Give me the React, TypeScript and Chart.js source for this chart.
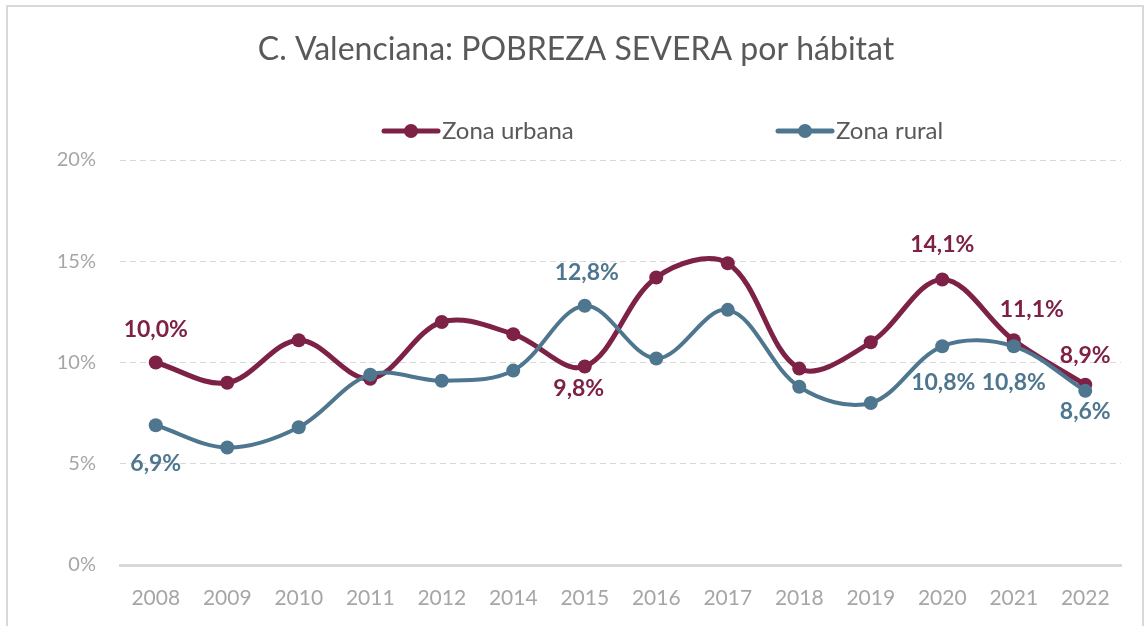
import { useEffect, useRef } from "react";
import { Chart, registerables } from "chart.js";

Chart.register(...registerables);

const years = ["2008", "2009", "2010", "2011", "2012", "2014", "2015", "2016", "2017", "2018", "2019", "2020", "2021", "2022"];
const urbana = [10.0, 9.0, 11.1, 9.2, 12.0, 11.4, 9.8, 14.2, 14.9, 9.7, 11.0, 14.1, 11.1, 8.9];
const rural = [6.9, 5.8, 6.8, 9.4, 9.1, 9.6, 12.8, 10.2, 12.6, 8.8, 8.0, 10.8, 10.8, 8.6];
const yTickValues = [0, 5, 10, 15, 20];
const urbanLabelIdx = [0, 6, 11, 12, 13];
const ruralLabelIdx = [0, 6, 11, 12, 13];

const title = "C. Valenciana: POBREZA SEVERA por hábitat";
const seriesNames = ["Zona urbana", "Zona rural"];

const URBAN = "#7D2146";
const RURAL = "#4F768F";
const FONT = "Lato, 'Open Sans', sans-serif";

const fmt = (v: number) => v.toFixed(1).replace(".", ",") + "%";

// label offsets (dx, dy) relative to the point, per labelled index
const urbanOffsets: Record<number, [number, number]> = {
  0: [0, -33],
  6: [-6, 22],
  11: [0, -35],
  12: [18, -31],
  13: [0, -29],
};
const ruralOffsets: Record<number, [number, number]> = {
  0: [0, 38],
  6: [2, -33],
  11: [1, 36],
  12: [0, 36],
  13: [0, 21],
};

const decorPlugin = {
  id: "decor",
  beforeDraw(chart: any) {
    const ctx = chart.ctx;
    ctx.save();
    ctx.fillStyle = "#ffffff";
    ctx.fillRect(0, 0, chart.width, chart.height);
    ctx.strokeStyle = "#D9D9D9";
    ctx.lineWidth = 2;
    ctx.strokeRect(7, 6, 1136, 700);
    // title
    ctx.fillStyle = "#595959";
    ctx.font = `32px ${FONT}`;
    ctx.textAlign = "center";
    ctx.textBaseline = "middle";
    ctx.fillText(title, 576, 50);
    // legend
    const items = [
      { x: 384, color: URBAN, text: seriesNames[0] },
      { x: 778, color: RURAL, text: seriesNames[1] },
    ];
    const ly = 131;
    items.forEach((it) => {
      ctx.strokeStyle = it.color;
      ctx.lineWidth = 5;
      ctx.lineCap = "round";
      ctx.beginPath();
      ctx.moveTo(it.x, ly);
      ctx.lineTo(it.x + 54, ly);
      ctx.stroke();
      ctx.fillStyle = it.color;
      ctx.beginPath();
      ctx.arc(it.x + 27, ly, 7, 0, Math.PI * 2);
      ctx.fill();
      ctx.fillStyle = "#595959";
      ctx.font = `24px ${FONT}`;
      ctx.textAlign = "left";
      ctx.textBaseline = "middle";
      ctx.fillText(it.text, it.x + 58, ly);
    });
    ctx.restore();
  },
  afterDatasetsDraw(chart: any) {
    const ctx = chart.ctx;
    ctx.save();
    ctx.font = `bold 23px ${FONT}`;
    ctx.textAlign = "center";
    ctx.textBaseline = "middle";
    const draw = (dsIndex: number, idxs: number[], offs: Record<number, [number, number]>, color: string, values: number[]) => {
      const meta = chart.getDatasetMeta(dsIndex);
      ctx.fillStyle = color;
      idxs.forEach((i) => {
        const p = meta.data[i];
        const [dx, dy] = offs[i] || [0, -30];
        ctx.fillText(fmt(values[i]), p.x + dx, p.y + dy);
      });
    };
    draw(0, urbanLabelIdx, urbanOffsets, URBAN, urbana);
    draw(1, ruralLabelIdx, ruralOffsets, RURAL, rural);
    ctx.restore();
  },
};

export default function App() {
  const ref = useRef<HTMLCanvasElement | null>(null);
  useEffect(() => {
    if (!ref.current) return;
    const chart = new Chart(ref.current, {
      type: "line",
      data: {
        labels: years,
        datasets: [
          {
            label: seriesNames[0],
            data: urbana,
            borderColor: URBAN,
            backgroundColor: URBAN,
            pointBackgroundColor: URBAN,
            pointBorderColor: URBAN,
            borderWidth: 5,
            pointRadius: 7,
            pointBorderWidth: 0,
            tension: 0.35,
            order: 1,
          },
          {
            label: seriesNames[1],
            data: rural,
            borderColor: RURAL,
            backgroundColor: RURAL,
            pointBackgroundColor: RURAL,
            pointBorderColor: RURAL,
            borderWidth: 4,
            pointRadius: 7,
            pointBorderWidth: 0,
            tension: 0.35,
            order: 0,
          },
        ],
      },
      options: {
        animation: false,
        responsive: false,
        layout: { padding: { top: 160, right: 23, left: 0, bottom: 0 } },
        plugins: {
          legend: { display: false },
          title: { display: false },
          tooltip: { enabled: false },
        },
        scales: {
          x: {
            offset: true,
            grid: { display: false, drawTicks: false },
            border: { display: true, color: "#D9D9D9", width: 3 },
            ticks: {
              color: "#A6A6A6",
              font: { family: FONT, size: 21 },
              padding: 21,
              maxRotation: 0,
              autoSkip: false,
            },
            afterFit: (s: any) => {
              s.height = 61;
            },
          },
          y: {
            min: 0,
            max: 20,
            afterBuildTicks: (s: any) => {
              s.ticks = yTickValues.map((v) => ({ value: v }));
            },
            grid: { color: "#D9D9D9", lineWidth: 1, drawTicks: false },
            border: { display: false, dash: [6, 4] },
            ticks: {
              color: "#A6A6A6",
              font: { family: FONT, size: 20 },
              padding: 24,
              callback: (v: any) => `${v}%`,
            },
            afterFit: (s: any) => {
              s.width = 120;
            },
          },
        },
      },
      plugins: [decorPlugin],
    });
    return () => chart.destroy();
  }, []);
  return (
    <div style={{ position: "absolute", left: 0, top: 0, width: 1144, height: 626 }}>
      <canvas ref={ref} width={1144} height={626} />
    </div>
  );
}
